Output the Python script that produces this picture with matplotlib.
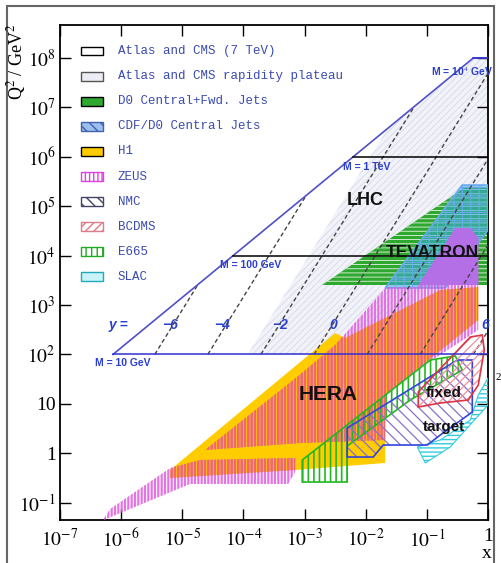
import numpy as np
import matplotlib.pyplot as plt
from matplotlib.patches import Rectangle

plt.rcParams['font.family'] = 'Liberation Serif'
plt.rcParams['mathtext.fontset'] = 'stix'
plt.rcParams['hatch.linewidth'] = 1.0

# region outlines, stored as log10(x) and log10(Q^2)
lhc_lx = [-6.133, -0.241, 0.0, 0.0]
lhc_lq = [2.0, 8.0, 8.0, 2.0]

plateau_lx = [-3.931, -1.646, -0.241, 0.0, 0.0, -1.76]
plateau_lq = [2.0, 6.57, 8.0, 8.0, 5.52, 2.0]

d0_lx = [-2.712, -0.372, 0.0, 0.0]
d0_lq = [3.405, 5.389, 5.389, 3.405]

cdf_lx = [-1.681, -0.421, 0.0, 0.0, -0.699]
cdf_lq = [3.344, 5.429, 5.429, 4.518, 3.344]

h1_lx = [-5.200, -2.499, -2.336, -0.781, -0.159, -0.159, -1.681, -1.681, -3.154, -5.200]
h1_lq = [-0.340, 2.433, 2.332, 3.304, 3.364, 2.696, 1.178, -0.198, -0.340, -0.502]

zeus_low_lx = [-6.30, -4.872, -3.268, -3.154, -3.154, -4.709, -5.200, -6.182]
zeus_low_lq = [-1.36, -0.623, -0.623, -0.381, -0.097, -0.138, -0.300, -1.130]

zeus_lx = [-4.627, -3.121, -2.499, -1.665, -1.157, -0.535, -0.290, -0.159, -0.159,
           -1.108, -1.681, -1.681, -3.072]
zeus_lq = [0.065, 1.543, 2.190, 3.364, 3.364, 4.559, 4.559, 4.356, 2.494,
           1.725, 1.178, 0.267, 0.206]

e665_lx = [-3.039, -2.303, -2.303, -1.272, -0.421, -0.535, -0.944, -3.039]
e665_lq = [-0.583, -0.583, 0.146, 1.077, 1.684, 1.968, 1.887, -0.138]

nmc_lx = [-2.303, -1.877, -1.714, -0.993, -0.781, -0.257, -0.257, -0.502, -2.303]
nmc_lq = [-0.077, -0.077, 0.166, 0.166, 0.368, 0.834, 1.887, 1.887, 0.510]

bcdms_lx = [-1.141, -1.141, -0.290, -0.093, -0.061, -0.159, -0.322, -0.781]
bcdms_lq = [0.935, 1.239, 2.352, 2.393, 2.089, 1.381, 1.077, 1.016]

slac_lx = [-1.157, -1.026, -0.617, 0.0, 0.0, -0.159, -0.290, -0.781]
slac_lq = [0.126, -0.198, 0.126, 0.976, 1.522, 1.178, 0.672, 0.267]

# dashed rapidity lines: start (log x at Q^2 = 100) and end point
rap_values = [-6, -4, -2, 0, 2, 4, 6]
rap_start_lx = [-5.45, -4.582, -3.714, -2.845, -1.977, -1.108, -0.240]
rap_end_lx = [-4.742, -2.973, -1.204, 0.0, 0.0, 0.0, 0.0]
rap_end_lq = [3.418, 5.218, 7.019, 7.69, 5.953, 4.216, 2.478]
rap_label_lx = [-5.2, -4.35, -3.40, -2.53, -1.68, -0.81, -0.04]

# mass lines (Q^2 = M^2)
mass_q2 = [1e2, 1e4, 1e6, 1e8]
mass_text = ['M = 10 GeV', 'M = 100 GeV', 'M = 1 TeV', 'M = 10$^4$ GeV']
mass_text_lx = [-6.43, -4.38, -2.37, -0.94]
mass_text_lq = [1.83, 3.81, 5.79, 7.72]

legend_labels = ['Atlas and CMS (7 TeV)', 'Atlas and CMS rapidity plateau',
                 'D0 Central+Fwd. Jets', 'CDF/D0 Central Jets', 'H1', 'ZEUS',
                 'NMC', 'BCDMS', 'E665', 'SLAC']

fig = plt.figure(figsize=(5.02, 5.63), dpi=100)
ax = fig.add_axes([60/502, 43/563, 428/502, 495/563])
ax.set_xscale('log')
ax.set_yscale('log')
ax.set_xlim(1e-7, 1)
ax.set_ylim(10**-1.352, 10**8.668)


def region(lx, lq, hlw=1.0, **kw):
    with plt.rc_context({'hatch.linewidth': hlw}):
        p = ax.fill(10**np.array(lx), 10**np.array(lq), **kw)[0]
    if hasattr(p, 'set_hatch_linewidth'):
        p.set_hatch_linewidth(hlw)
    return p


# LHC plateau
region(plateau_lx, plateau_lq, facecolor='#f2f2f9', edgecolor='none', zorder=1)
region(plateau_lx, plateau_lq, facecolor='none', edgecolor='#d2d4ea', lw=0,
       hatch='/////', hlw=0.5, zorder=1.1)
# LHC boundary
ax.plot(10**np.array(lhc_lx[:3]), 10**np.array(lhc_lq[:3]), color='#5050c8', lw=1.2, zorder=8)

# Tevatron
d0 = region(d0_lx, d0_lq, facecolor='#2ea82e', edgecolor='none', zorder=2)
region(d0_lx, d0_lq, facecolor='none', edgecolor='#e8f5e8', lw=0, hatch='----', hlw=0.6, zorder=2.1)
region(cdf_lx, cdf_lq, facecolor=(0.22, 0.66, 0.90, 0.55), edgecolor='none', zorder=3)
region(cdf_lx, cdf_lq, facecolor='none', edgecolor='#6aaaf0', lw=1.2, hatch='++', hlw=0.7, zorder=3.1)

# HERA
h1 = region(h1_lx, h1_lq, facecolor='#ffcc00', edgecolor='none', zorder=4)
for lx, lq in [(zeus_low_lx, zeus_low_lq), (zeus_lx, zeus_lq)]:
    region(lx, lq, facecolor='none', edgecolor='#dd5ddd', lw=0, hatch='|||||',
           hlw=1.6, alpha=0.85, zorder=5)
    zr = region(lx, lq, facecolor='none', edgecolor='#f06868', lw=0, hatch='|||||',
                hlw=1.6, zorder=5.1)
    zr.set_clip_path(h1)
zv = region(zeus_lx, zeus_lq, facecolor='#b46ee6', edgecolor='none', zorder=5.2)
zv.set_clip_path(d0)

# rapidity lines
for y, x0, x1, q1, xl in zip(rap_values, rap_start_lx, rap_end_lx, rap_end_lq, rap_label_lx):
    ax.plot([10**x0, 10**x1], [1e2, 10**q1], color='#444444', lw=1.0,
            dashes=(3, 2), zorder=6)
    ax.text(10**xl, 10**2.6, str(y).replace('-', '\u2212'), color='#2a3fd0',
            fontsize=10, fontweight='bold', style='italic', family='Liberation Sans',
            ha='center', va='center', zorder=3.5)
ax.text(10**-6.21, 10**2.6, 'y =', color='#2a3fd0', fontsize=10, fontweight='bold',
        style='italic', family='Liberation Sans', ha='left', va='center', zorder=3.5)

# fixed target
region(slac_lx, slac_lq, facecolor='none', edgecolor='#33ccdd', lw=0.8, hatch='----',
       hlw=1.0, zorder=6.9)
region(e665_lx, e665_lq, facecolor='none', edgecolor='#22b822', lw=1.2, hatch='|||',
       hlw=1.2, zorder=7)
region(nmc_lx, nmc_lq, facecolor='none', edgecolor='#8a70c8', lw=0, hatch='\\\\\\',
       hlw=0.9, zorder=7.1)
region(nmc_lx, nmc_lq, facecolor='none', edgecolor='#3344dd', lw=1.2, zorder=7.2)
region(bcdms_lx, bcdms_lq, facecolor='none', edgecolor='#f0909c', lw=0, hatch='////',
       hlw=0.9, zorder=7.3)
region(bcdms_lx, bcdms_lq, facecolor='none', edgecolor='#dd3344', lw=1.2, zorder=7.4)

# mass lines
for i, q2 in enumerate(mass_q2):
    lq = np.log10(q2)
    xstart = lhc_lx[0] + (lq - lhc_lq[0]) / (lhc_lq[1] - lhc_lq[0]) * (lhc_lx[1] - lhc_lx[0])
    col = '#3030d0' if i in (0, 3) else 'black'
    ax.plot([10**xstart, 1], [q2, q2], color=col, lw=1.1, zorder=8)
    ax.text(10**mass_text_lx[i], 10**mass_text_lq[i], mass_text[i], color='#2a3fd0',
            fontsize=7.5, fontweight='bold', family='Liberation Sans', ha='left',
            va='center', zorder=9)

# region names
big = dict(family='Liberation Sans', fontweight='bold', color='#111111',
           ha='center', va='center', zorder=9)
ax.text(10**-2.01, 10**5.125, 'LHC', fontsize=13, **big)
ax.text(10**-0.91, 10**4.07, 'TEVATRON', fontsize=12.5, **big)
ax.text(10**-2.61, 10**1.18, 'HERA', fontsize=15, **big)
ax.text(10**-0.73, 10**1.22, 'fixed', fontsize=11, **big)
ax.text(10**-0.715, 10**0.53, 'target', fontsize=11, **big)

# legend drawn by hand
box_styles = [
    dict(facecolor='white', edgecolor='black'),
    dict(facecolor='#ececf4', edgecolor='#555555'),
    dict(facecolor='#2ea82e', edgecolor='black', hatch='-'),
    dict(facecolor='#9cc0ee', edgecolor='#4060b0', hatch='\\\\\\'),
    dict(facecolor='#ffcc00', edgecolor='black'),
    dict(facecolor='white', edgecolor='#e040e0', hatch='||||'),
    dict(facecolor='white', edgecolor='#444466', hatch='\\\\\\'),
    dict(facecolor='white', edgecolor='#e07a88', hatch='////'),
    dict(facecolor='white', edgecolor='#22aa22', hatch='|||'),
    dict(facecolor='#c8f4f8', edgecolor='#22aabb'),
]
for i, (lab, st) in enumerate(zip(legend_labels, box_styles)):
    yc = (520 - (51 + 25.1 * i)) / 495
    r = Rectangle((0.049, yc - 0.009), 0.051, 0.018, transform=ax.transAxes,
                  lw=1.0, zorder=10, **st)
    ax.add_patch(r)
    ax.text(0.1355, yc, lab, transform=ax.transAxes, family='Liberation Mono',
            fontsize=9, color='#3b4bb0', ha='left', va='center', zorder=10)

# axes style
xt = [1e-7, 1e-6, 1e-5, 1e-4, 1e-3, 1e-2, 1e-1, 1]
ax.set_xticks(xt)
ax.set_xticklabels([r'$10^{-%d}$' % k for k in range(7, 0, -1)] + ['1'])
yt = [1e-1, 1, 10, 1e2, 1e3, 1e4, 1e5, 1e6, 1e7, 1e8]
ax.set_yticks(yt)
ax.set_yticklabels([r'$10^{-1}$', '1', '10'] + [r'$10^{%d}$' % k for k in range(2, 9)])
ax.tick_params(which='both', direction='in', top=True, right=True, labelsize=14)
ax.tick_params(which='major', length=8, width=1)
ax.tick_params(which='minor', length=4, width=0.8)
ax.tick_params(axis='x', pad=6)
ax.tick_params(axis='y', pad=3)
for s in ax.spines.values():
    s.set_linewidth(1.3)

fig.text(17/502, 1 - 62/563, r'Q$^2$ / GeV$^2$', rotation=90, fontsize=13,
         ha='center', va='center')
fig.text(487/502, 1 - 553/563, 'x', fontsize=14, ha='center', va='center')
fig.text(498/502, 1 - 377/563, '2', fontsize=8, ha='center', va='center')
fig.add_artist(Rectangle((7/502, -0.01), 487/502, 1 - 6/563 + 0.01,
                         transform=fig.transFigure, fill=False,
                         edgecolor='#666666', lw=1.5))

fig.savefig('out.png', dpi=100)
